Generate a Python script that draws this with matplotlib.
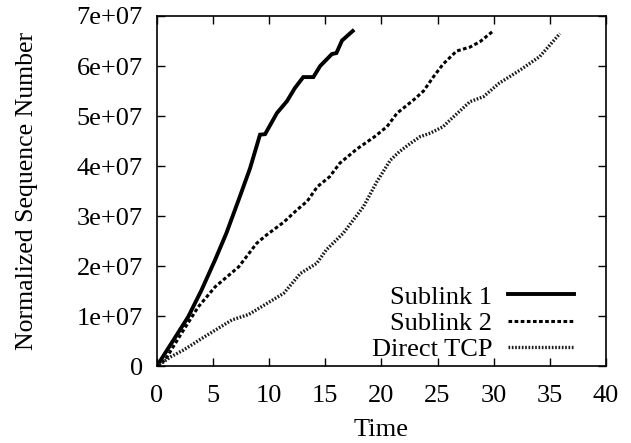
import numpy as np
import matplotlib
matplotlib.use('Agg')
import matplotlib.pyplot as plt

# data (time, sequence number / 1e7)
t_sub1 = [0, 1.3, 2.8, 4.0, 5.2, 6.2, 7.3, 8.3, 9.2, 9.65, 10.7, 11.6, 12.3,
          13.05, 13.95, 14.55, 15.6, 16.0, 16.5, 17.45]
seq_sub1 = [0, 0.46, 0.99, 1.53, 2.13, 2.66, 3.33, 3.95, 4.63, 4.64, 5.06, 5.3,
            5.56, 5.78, 5.78, 6.0, 6.24, 6.26, 6.51, 6.70]

t_sub2 = [0, 0.75, 2.2, 3.7, 5.2, 7.3, 8.9, 9.8, 11.3, 12.5, 13.4, 14.3, 15.4,
          16.3, 17.8, 19.4, 20.5, 21.4, 22.85, 23.75, 24.65, 25.5, 26.7, 27.9,
          28.8, 29.9]
seq_sub2 = [0, 0.13, 0.66, 1.19, 1.59, 1.99, 2.46, 2.63, 2.88, 3.13, 3.3, 3.59,
            3.79, 4.06, 4.34, 4.59, 4.79, 5.06, 5.32, 5.5, 5.79, 6.04, 6.3, 6.38,
            6.49, 6.69]

t_tcp = [0, 1.3, 2.4, 4.3, 6.7, 8.2, 9.6, 11.3, 12.8, 14.25, 15.1, 16.6, 18.4,
         19.6, 20.8, 21.6, 22.55, 23.45, 24.35, 25.5, 26.1, 27.9, 29.1, 30.5,
         32.35, 34.1, 35.9]
seq_tcp = [0, 0.2, 0.33, 0.6, 0.93, 1.04, 1.23, 1.46, 1.86, 2.06, 2.33, 2.66,
           3.19, 3.69, 4.12, 4.29, 4.45, 4.59, 4.66, 4.79, 4.92, 5.29, 5.39,
           5.66, 5.92, 6.19, 6.65]

y_ticks = [0, 1e7, 2e7, 3e7, 4e7, 5e7, 6e7, 7e7]
y_labels = ['0', '1e+07', '2e+07', '3e+07', '4e+07', '5e+07', '6e+07', '7e+07']
x_ticks = [0, 5, 10, 15, 20, 25, 30, 35, 40]

plt.rcParams['font.family'] = ['Liberation Serif', 'DejaVu Serif']
fs = 19

fig = plt.figure(figsize=(6.31, 4.43), dpi=100)
ax = fig.add_axes([0.2483, 0.1727, 0.7121, 0.7912])

ax.plot(t_sub1, np.array(seq_sub1) * 1e7, color='black', lw=2.8,
        label='Sublink 1', solid_joinstyle='miter')
ax.plot(t_sub2, np.array(seq_sub2) * 1e7, color='black', lw=2.2,
        linestyle=(0, (1.2, 0.8)), label='Sublink 2')
ax.plot(t_tcp, np.array(seq_tcp) * 1e7, color='#1a1a1a', lw=2.4,
        linestyle=(0, (0.5, 0.5)), label='Direct TCP')

ax.set_xlim(0, 40)
ax.set_ylim(0, 7e7)
ax.set_xticks(x_ticks)
ax.set_yticks(y_ticks)
ax.set_yticklabels(y_labels)
ax.tick_params(direction='in', top=True, right=True, length=6, width=1,
               labelsize=fs)
ax.tick_params(axis='x', pad=13)
ax.tick_params(axis='y', pad=10)
for sp in ax.spines.values():
    sp.set_linewidth(1.2)

ax.set_xlabel('Time', fontsize=fs, labelpad=9)
ax.set_ylabel('Normalized Sequence Number', fontsize=18.5, labelpad=28)

leg = ax.legend(loc='lower right', bbox_to_anchor=(0.9285, 0.016),
                frameon=False, markerfirst=False, handlelength=2.5,
                labelspacing=0.1, handletextpad=0.6, borderpad=0.0,
                borderaxespad=0.0, fontsize=fs)

fig.savefig('out.png', dpi=100)
